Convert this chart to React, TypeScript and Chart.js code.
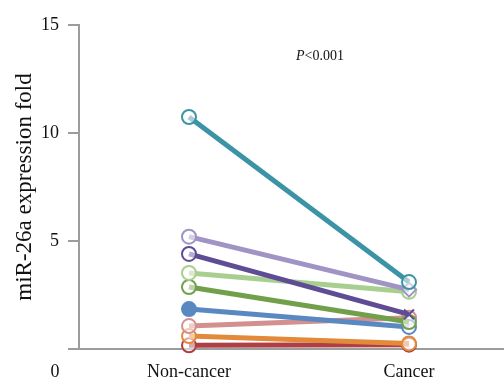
import React, { useEffect, useRef } from "react";
import { Chart, registerables } from "chart.js";

Chart.register(...registerables);

const groups = ["Non-cancer", "Cancer"];
const groupX = [1, 3];
const seriesNames = ["teal", "lavender", "purple", "lightgreen", "green", "blue", "pink", "orange", "darkred"];
const seriesColors = ["#3c93a6", "#a094c4", "#5e4c94", "#a8cf90", "#72a04a", "#5a89c2", "#d48f8f", "#e38a3a", "#ad3f45"];
const nonCancer = [10.74, 5.2, 4.4, 3.52, 2.87, 1.85, 1.06, 0.6, 0.17];
const cancer = [3.1, 2.75, 1.6, 2.65, 1.25, 1.02, 1.45, 0.26, 0.2];
const yTicks = [0, 5, 10, 15];

const AXIS = "#9c9c9c";
const FONT = "'Liberation Serif', 'Times New Roman', serif";

const textPlugin = {
  id: "extraText",
  afterDraw(chart: any) {
    const ctx = chart.ctx;
    ctx.save();
    ctx.fillStyle = "#111";
    ctx.font = `18px ${FONT}`;
    ctx.textAlign = "center";
    ctx.textBaseline = "middle";
    ctx.fillText("0", 55, 372);
    ctx.font = `italic 14px ${FONT}`;
    ctx.textAlign = "left";
    const pw = ctx.measureText("P").width;
    ctx.font = `14px ${FONT}`;
    const rw = ctx.measureText("<0.001").width;
    const start = 320 - (pw + rw) / 2;
    ctx.font = `italic 14px ${FONT}`;
    ctx.fillText("P", start, 56);
    ctx.font = `14px ${FONT}`;
    ctx.fillText("<0.001", start + pw, 56);
    ctx.restore();
  },
};

export default function App() {
  const ref = useRef<HTMLCanvasElement>(null);
  useEffect(() => {
    if (!ref.current) return;
    const datasets = seriesNames.map((name, i) => ({
      label: name,
      data: [
        { x: groupX[0], y: nonCancer[i] },
        { x: groupX[1], y: cancer[i] },
      ],
      borderColor: seriesColors[i],
      backgroundColor: seriesColors[i],
      borderWidth: 5,
      pointRadius: 7,
      pointHoverRadius: 7,
      pointBorderWidth: 2,
      pointBorderColor: seriesColors[i],
      pointBackgroundColor:
        name === "blue" ? [seriesColors[i], "rgba(255,255,255,0.55)"] : "rgba(255,255,255,0.55)",
      pointStyle:
        name === "lavender" ? ["circle", "rectRot"] : name === "purple" ? ["circle", "crossRot"] : "circle",
      clip: false as any,
    }));
    const chart = new Chart(ref.current, {
      type: "line",
      data: { datasets },
      options: {
        animation: false,
        responsive: true,
        maintainAspectRatio: false,
        layout: { autoPadding: false, padding: { top: 25, right: 0, left: 0, bottom: 0 } },
        plugins: { legend: { display: false }, tooltip: { enabled: false } },
        scales: {
          x: {
            type: "linear",
            min: 0,
            max: 3 * 425 / 330,
            afterBuildTicks: (scale: any) => {
              scale.ticks = groupX.map((v) => ({ value: v }));
            },
            afterFit: (scale: any) => {
              scale.height = 31;
              scale.paddingRight = 0;
              scale.paddingLeft = 0;
            },
            ticks: {
              autoSkip: false,
              maxRotation: 0,
              padding: 12,
              color: "#111",
              font: { family: FONT, size: 18 },
              callback: (v: any) => {
                const idx = groupX.indexOf(Number(v));
                return idx >= 0 ? groups[idx] : "";
              },
            },
            grid: { display: false, drawTicks: false },
            border: { display: true, color: AXIS, width: 2 },
          },
          y: {
            min: 0,
            max: 15,
            afterBuildTicks: (scale: any) => {
              scale.ticks = yTicks.map((v) => ({ value: v }));
            },
            afterFit: (scale: any) => {
              scale.width = 79;
              scale.paddingTop = 0;
              scale.paddingBottom = 0;
            },
            ticks: {
              padding: 9,
              color: "#111",
              font: { family: FONT, size: 18 },
              callback: (v: any) => (Number(v) === 0 ? "" : String(v)),
            },
            grid: {
              drawOnChartArea: false,
              drawTicks: true,
              tickLength: 11,
              color: AXIS,
              lineWidth: 2,
            },
            border: { display: true, color: AXIS, width: 2 },
            title: {
              display: true,
              text: "miR-26a expression fold",
              color: "#111",
              font: { family: FONT, size: 23 },
              padding: { top: 11, bottom: 0 },
            },
          },
        },
      },
      plugins: [textPlugin],
    });
    return () => chart.destroy();
  }, []);
  return (
    <div style={{ position: "absolute", left: 0, top: 0, width: 504, height: 380 }}>
      <canvas ref={ref} />
    </div>
  );
}
